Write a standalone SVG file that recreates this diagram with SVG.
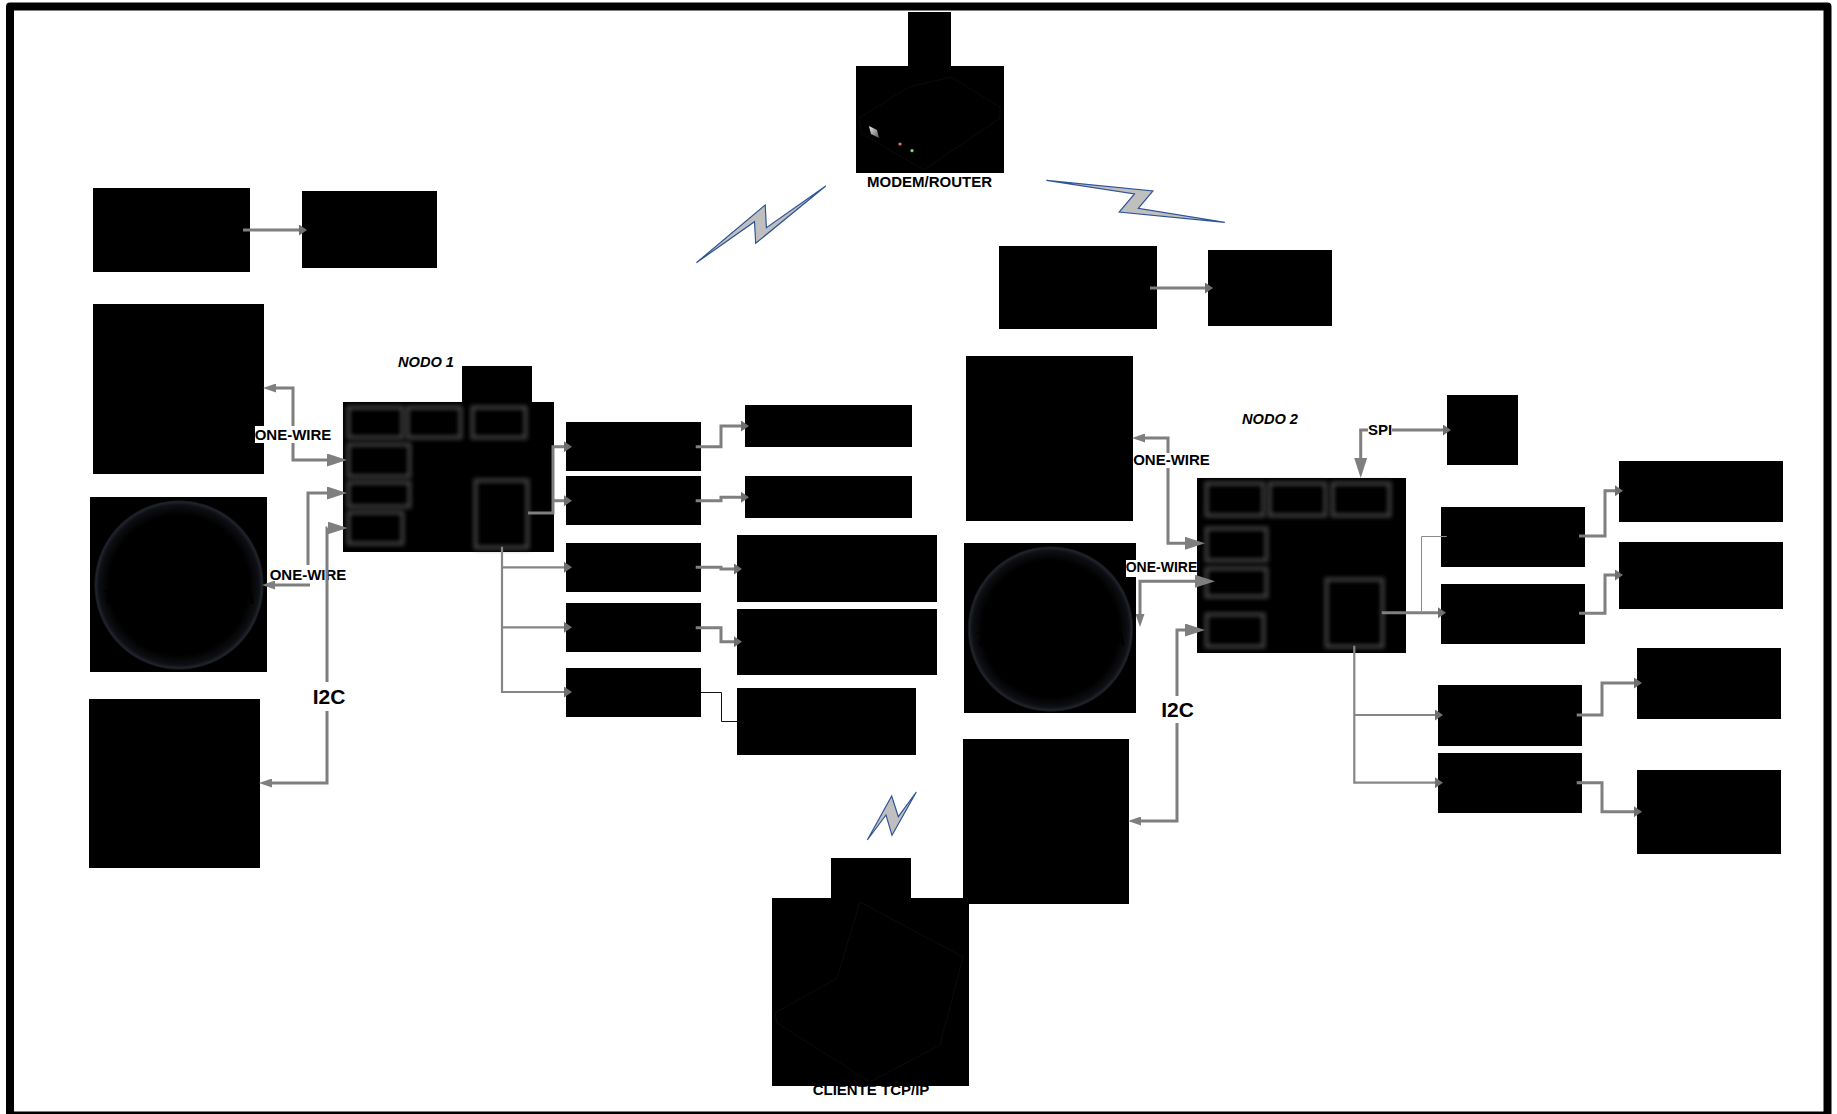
<svg xmlns="http://www.w3.org/2000/svg" width="1837" height="1114" viewBox="0 0 1837 1114">
<style>
.b{fill:#000}
.t{font-family:"Liberation Sans",Arial,sans-serif;font-weight:700;fill:#000;text-anchor:middle}
.f15{font-size:15px}.f14{font-size:14px}.f21{font-size:21px}
.i{font-style:italic;font-size:14.6px}
.bg{fill:#fff}
.glow{fill:none;stroke:#3e3e3e;stroke-width:4;filter:url(#soft)}
.bolt{fill:#bfbfbf;stroke:#2f5597;stroke-width:1.2;stroke-linejoin:miter}
.faint{fill:none;stroke:#0b0b0b;stroke-width:1}
.c{fill:none;stroke:#7f7f7f;stroke-width:3;stroke-linejoin:miter}
.n{stroke-width:2.2;stroke:#868686}
.h{stroke-width:1;stroke:#8c8c8c}
.d{stroke:#111;stroke-width:1}
.big{marker-end:url(#big)}.mids{marker-start:url(#mid)}.midn{marker-end:url(#mid)}.sm{marker-end:url(#sm)}
</style>
<defs>
<filter id="soft" x="-25%" y="-25%" width="150%" height="150%"><feGaussianBlur stdDeviation="2"/></filter>
<radialGradient id="rim"><stop offset="0.82" stop-color="#000"/><stop offset="0.94" stop-color="#0e0f13"/><stop offset="0.98" stop-color="#22242d"/><stop offset="1" stop-color="#050506"/></radialGradient>
<linearGradient id="port" x1="0" y1="0" x2="1" y2="1"><stop offset="0" stop-color="#eee"/><stop offset="1" stop-color="#555"/></linearGradient>
<marker id="big" markerUnits="userSpaceOnUse" markerWidth="20" markerHeight="13" refX="0" refY="6.5" orient="auto-start-reverse"><path d="M0,0L20,6.5L0,13z" fill="#7f7f7f"/></marker>
<marker id="mid" markerUnits="userSpaceOnUse" markerWidth="13" markerHeight="9" refX="0" refY="4.5" orient="auto-start-reverse"><path d="M0,0L13,4.5L0,9z" fill="#7f7f7f"/></marker>
<marker id="sm" markerUnits="userSpaceOnUse" markerWidth="8" markerHeight="11" refX="0" refY="5.5" orient="auto-start-reverse"><path d="M0,0L8,5.5L0,11z" fill="#6f6f6f"/></marker>
</defs>
<rect width="1837" height="1114" fill="#fff"/>
<rect id="frame" x="10" y="6.5" width="1817.5" height="1109" fill="none" stroke="#000" stroke-width="8" stroke-linejoin="round"/>

<g id="modem-router">
<rect class="b" x="908" y="12" width="43" height="54"/><rect class="b" x="856" y="66" width="148" height="107"/>
<path class="faint" d="M859,118L909,87L951,77L1000,107L1000,118L924,170L861,133z"/>
<path d="M869,126L877,130L879,138L871,134z" fill="url(#port)"/>
<circle cx="900" cy="144" r="1.6" fill="#e8736c"/><circle cx="912" cy="150.7" r="1.6" fill="#7fd67f"/>
<text class="t f15" x="929.5" y="187">MODEM/ROUTER</text>
</g>
<g id="bolts">
<polygon class="bolt" points="696.4,262.7 765.2,205 766.4,227.7 825.7,186 755.7,243.3 754.5,221.7"/>
<polygon class="bolt" points="1046.5,180.3 1152.9,191 1138.3,208.3 1224.8,222.3 1119.2,212 1134.5,194"/>
<polygon class="bolt" points="867.3,840 891.7,796 898.3,816.7 916.3,792 892,835.3 886,815"/>
</g>
<g id="cliente-tcp-ip">
<text class="t f15" x="871" y="1095">CLIENTE TCP/IP</text>
<rect class="b" x="831" y="858" width="80" height="40"/><rect class="b" x="772" y="898" width="197" height="188"/>
<path class="faint" d="M860,902L963,957L940,1045L870,1082L777,1023L775,1013L837,978z"/>
</g>

<g id="a1"><rect class="b" x="93" y="188" width="157" height="84"/></g>
<g id="a2"><rect class="b" x="302" y="191" width="135" height="77"/></g>
<g id="a3"><rect class="b" x="93" y="304" width="171" height="170"/></g>
<g id="a4"><rect class="b" x="90" y="497" width="177" height="175"/><circle cx="179" cy="585" r="85" fill="url(#rim)"/><text x="108" y="604" font-family="Liberation Sans,sans-serif" font-size="20" font-weight="700" font-style="italic" text-anchor="middle" fill="#000">T</text><text x="248" y="604" font-family="Liberation Sans,sans-serif" font-size="20" font-weight="700" font-style="italic" text-anchor="middle" fill="#000">A</text></g>
<g id="a5"><rect class="b" x="89" y="699" width="171" height="169"/></g>

<g id="nodo-1">
<rect class="b" x="343" y="402" width="211" height="150"/><rect class="b" x="462" y="366" width="70" height="36"/>
<rect class="glow" x="348.500" y="407.500" width="54" height="30"/><rect class="glow" x="407.500" y="407.500" width="53" height="30"/><rect class="glow" x="472.500" y="407.500" width="53" height="30"/>
<rect class="glow" x="348.500" y="444.500" width="61" height="32"/><rect class="glow" x="348.500" y="482.500" width="61" height="24"/><rect class="glow" x="348.500" y="512.500" width="54" height="31"/>
<rect class="glow" x="475.500" y="480.500" width="52" height="67"/>
<text class="t i" x="426" y="367">NODO 1</text>
</g>
<g id="n1-r1"><rect class="b" x="566" y="422" width="135" height="49"/></g>
<g id="n1-r2"><rect class="b" x="566" y="476" width="135" height="49"/></g>
<g id="n1-r3"><rect class="b" x="566" y="543" width="135" height="49"/></g>
<g id="n1-r4"><rect class="b" x="566" y="603" width="135" height="49"/></g>
<g id="n1-r5"><rect class="b" x="566" y="668" width="135" height="49"/></g>
<g id="n1-o1"><rect class="b" x="745" y="405" width="167" height="42"/></g>
<g id="n1-o2"><rect class="b" x="745" y="476" width="167" height="42"/></g>
<g id="n1-o3"><rect class="b" x="737" y="535" width="200" height="67"/></g>
<g id="n1-o4"><rect class="b" x="737" y="609" width="200" height="66"/></g>
<g id="n1-o5"><rect class="b" x="737" y="688" width="179" height="67"/></g>

<g id="b1"><rect class="b" x="999" y="246" width="158" height="83"/></g>
<g id="b2"><rect class="b" x="1208" y="250" width="124" height="76"/></g>
<g id="b3"><rect class="b" x="966" y="356" width="167" height="165"/></g>
<g id="b4"><rect class="b" x="964" y="543" width="172" height="170"/><circle cx="1050.500" cy="629" r="83" fill="url(#rim)"/><text x="981" y="646" font-family="Liberation Sans,sans-serif" font-size="20" font-style="italic" text-anchor="middle" fill="#000">T</text><text x="1119" y="646" font-family="Liberation Sans,sans-serif" font-size="20" font-style="italic" text-anchor="middle" fill="#000">A</text></g>
<g id="b5"><rect class="b" x="963" y="739" width="166" height="165"/></g>
<g id="spi-device"><rect class="b" x="1447" y="395" width="71" height="70"/></g>

<g id="nodo-2">
<rect class="b" x="1197" y="478" width="209" height="175"/>
<rect class="glow" x="1206.500" y="483.500" width="57" height="32"/><rect class="glow" x="1269.500" y="483.500" width="56" height="32"/><rect class="glow" x="1332.500" y="483.500" width="57" height="32"/>
<rect class="glow" x="1206.500" y="528.500" width="60" height="32"/><rect class="glow" x="1206.500" y="568.500" width="60" height="28"/><rect class="glow" x="1206.500" y="614.500" width="57" height="32"/>
<rect class="glow" x="1326.500" y="579.500" width="56" height="67"/>
<text class="t i" x="1270" y="424">NODO 2</text>
</g>
<g id="n2-r1"><rect class="b" x="1441" y="507" width="144" height="60"/></g>
<g id="n2-r2"><rect class="b" x="1441" y="584" width="144" height="60"/></g>
<g id="n2-r3"><rect class="b" x="1438" y="685" width="144" height="61"/></g>
<g id="n2-r4"><rect class="b" x="1438" y="753" width="144" height="60"/></g>
<g id="n2-o1"><rect class="b" x="1619" y="461" width="164" height="61"/></g>
<g id="n2-o2"><rect class="b" x="1619" y="542" width="164" height="67"/></g>
<g id="n2-o3"><rect class="b" x="1637" y="648" width="144" height="71"/></g>
<g id="n2-o4"><rect class="b" x="1637" y="770" width="144" height="84"/></g>

<g id="labels">
<rect class="bg" x="255" y="426" width="76" height="17"/><text class="t f15" x="293" y="439.500">ONE-WIRE</text>
<rect class="bg" x="270" y="567" width="76" height="15"/><text class="t f15" x="308" y="580">ONE-WIRE</text>
<rect class="bg" x="312" y="682" width="35" height="29"/><text class="t f21" x="329" y="703.500">I2C</text>
<rect class="bg" x="1133" y="453" width="76" height="15"/><text class="t f15" x="1171.500" y="465">ONE-WIRE</text>
<rect class="bg" x="1126" y="560" width="71" height="17"/><text class="t f14" x="1161.500" y="572">ONE-WIRE</text>
<rect class="bg" x="1161" y="696" width="34" height="27"/><text class="t f21" x="1177.500" y="716.500">I2C</text>
<rect class="bg" x="1368" y="422" width="24" height="16"/><text class="t f15" x="1380" y="435">SPI</text>
</g>

<g id="connectors">
<path class="c sm" d="M243,230H299"/>
<path class="c sm" d="M1150,288H1205"/>
<path class="c big mids" d="M276,388H293V426M293,443V460H327"/>
<path class="c mids" d="M275,585H310"/>
<path class="c big" d="M308,565V493H327"/>
<path class="c big mids" d="M272,783H327V711M327,682V528H327.500"/>
<path class="c sm" d="M528,513H553V446.700H564"/>
<path class="c sm" d="M553,500.700H564"/>
<path class="c n sm" d="M502,546.700V692H564"/>
<path class="c n sm" d="M502,567.300H564"/>
<path class="c n sm" d="M502,627.300H564"/>
<path class="c sm" d="M695.700,446.700H721V426H741"/>
<path class="c sm" d="M695.700,500.700H721V497.300H741"/>
<path class="c sm" d="M695.700,567.300H721V569H734"/>
<path class="c sm" d="M695.700,627.700H721V641.700H734"/>
<path class="c d" d="M701,692.500H721.500V721.500H737"/>
<path class="c big mids" d="M1145,438H1168V453M1168,468V543.300H1185"/>
<path class="c big mids" d="M1140,614V581.300H1195"/>
<path class="c big mids" d="M1141,821H1177V723M1177,696V630H1185"/>
<path class="c big" d="M1368,430H1360.700V458"/>
<path class="c sm" d="M1392,430H1443"/>
<path class="c sm" d="M1381.700,612.700H1438"/>
<path class="c h" d="M1421.500,613V536.500H1446.700"/>
<path class="c n sm" d="M1354.300,645.700V782.700H1435"/>
<path class="c n sm" d="M1354.300,715H1435"/>
<path class="c sm" d="M1579,536H1605V490.700H1615"/>
<path class="c sm" d="M1579,613.300H1605V575H1615"/>
<path class="c sm" d="M1576.700,715H1602V683H1634"/>
<path class="c sm" d="M1576.700,782.700H1602V811.700H1634"/>
</g>
</svg>
